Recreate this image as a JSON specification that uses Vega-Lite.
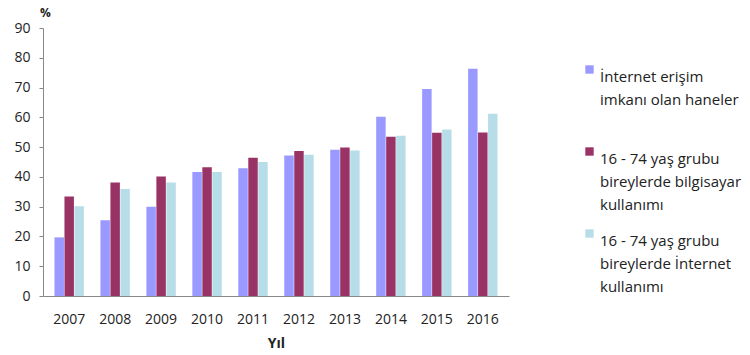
{
  "$schema": "https://vega.github.io/schema/vega-lite/v6.json",
  "width": 466,
  "height": 268,
  "autosize": {"type": "none"},
  "padding": {"left": 43, "top": 28, "right": 241, "bottom": 59},
  "background": "white",
  "config": {
    "view": {"stroke": null},
    "font": "Open Sans",
    "style": {"guide-label": {"lineHeight": 23}}
  },
  "data": {
    "values": [
      {"yil": "2007", "seri": "İnternet erişim\nimkanı olan haneler", "k": 1, "deger": 19.7},
      {"yil": "2007", "seri": "16 - 74 yaş grubu\nbireylerde bilgisayar\nkullanımı", "k": 2, "deger": 33.4},
      {"yil": "2007", "seri": "16 - 74 yaş grubu\nbireylerde İnternet\nkullanımı", "k": 3, "deger": 30.1},
      {"yil": "2008", "seri": "İnternet erişim\nimkanı olan haneler", "k": 1, "deger": 25.4},
      {"yil": "2008", "seri": "16 - 74 yaş grubu\nbireylerde bilgisayar\nkullanımı", "k": 2, "deger": 38.1},
      {"yil": "2008", "seri": "16 - 74 yaş grubu\nbireylerde İnternet\nkullanımı", "k": 3, "deger": 35.9},
      {"yil": "2009", "seri": "İnternet erişim\nimkanı olan haneler", "k": 1, "deger": 30.0},
      {"yil": "2009", "seri": "16 - 74 yaş grubu\nbireylerde bilgisayar\nkullanımı", "k": 2, "deger": 40.1},
      {"yil": "2009", "seri": "16 - 74 yaş grubu\nbireylerde İnternet\nkullanımı", "k": 3, "deger": 38.1},
      {"yil": "2010", "seri": "İnternet erişim\nimkanı olan haneler", "k": 1, "deger": 41.6},
      {"yil": "2010", "seri": "16 - 74 yaş grubu\nbireylerde bilgisayar\nkullanımı", "k": 2, "deger": 43.2},
      {"yil": "2010", "seri": "16 - 74 yaş grubu\nbireylerde İnternet\nkullanımı", "k": 3, "deger": 41.6},
      {"yil": "2011", "seri": "İnternet erişim\nimkanı olan haneler", "k": 1, "deger": 42.9},
      {"yil": "2011", "seri": "16 - 74 yaş grubu\nbireylerde bilgisayar\nkullanımı", "k": 2, "deger": 46.4},
      {"yil": "2011", "seri": "16 - 74 yaş grubu\nbireylerde İnternet\nkullanımı", "k": 3, "deger": 45.0},
      {"yil": "2012", "seri": "İnternet erişim\nimkanı olan haneler", "k": 1, "deger": 47.2},
      {"yil": "2012", "seri": "16 - 74 yaş grubu\nbireylerde bilgisayar\nkullanımı", "k": 2, "deger": 48.7},
      {"yil": "2012", "seri": "16 - 74 yaş grubu\nbireylerde İnternet\nkullanımı", "k": 3, "deger": 47.4},
      {"yil": "2013", "seri": "İnternet erişim\nimkanı olan haneler", "k": 1, "deger": 49.1},
      {"yil": "2013", "seri": "16 - 74 yaş grubu\nbireylerde bilgisayar\nkullanımı", "k": 2, "deger": 49.9},
      {"yil": "2013", "seri": "16 - 74 yaş grubu\nbireylerde İnternet\nkullanımı", "k": 3, "deger": 48.9},
      {"yil": "2014", "seri": "İnternet erişim\nimkanı olan haneler", "k": 1, "deger": 60.2},
      {"yil": "2014", "seri": "16 - 74 yaş grubu\nbireylerde bilgisayar\nkullanımı", "k": 2, "deger": 53.5},
      {"yil": "2014", "seri": "16 - 74 yaş grubu\nbireylerde İnternet\nkullanımı", "k": 3, "deger": 53.8},
      {"yil": "2015", "seri": "İnternet erişim\nimkanı olan haneler", "k": 1, "deger": 69.5},
      {"yil": "2015", "seri": "16 - 74 yaş grubu\nbireylerde bilgisayar\nkullanımı", "k": 2, "deger": 54.8},
      {"yil": "2015", "seri": "16 - 74 yaş grubu\nbireylerde İnternet\nkullanımı", "k": 3, "deger": 55.9},
      {"yil": "2016", "seri": "İnternet erişim\nimkanı olan haneler", "k": 1, "deger": 76.3},
      {"yil": "2016", "seri": "16 - 74 yaş grubu\nbireylerde bilgisayar\nkullanımı", "k": 2, "deger": 54.9},
      {"yil": "2016", "seri": "16 - 74 yaş grubu\nbireylerde İnternet\nkullanımı", "k": 3, "deger": 61.2}
    ]
  },
  "mark": {"type": "bar"},
  "encoding": {
    "x": {
      "field": "yil",
      "type": "nominal",
      "scale": {"paddingInner": 0.36, "paddingOuter": 0.25},
      "axis": {
        "title": "Yıl",
        "titleFont": "Open Sans",
        "titleFontSize": 14,
        "titleFontWeight": "bold",
        "titleColor": "#222222",
        "titlePadding": 10,
        "labelAngle": 0,
        "labelFontSize": 14,
        "labelColor": "#222222",
        "labelPadding": 16,
        "ticks": false,
        "domainColor": "#888888"
      }
    },
    "xOffset": {"field": "k", "type": "ordinal", "scale": {"paddingInner": 0.05}},
    "y": {
      "field": "deger",
      "type": "quantitative",
      "scale": {"domain": [0, 90]},
      "axis": {
        "values": [0, 10, 20, 30, 40, 50, 60, 70, 80, 90],
        "grid": false,
        "title": "%",
        "titleAngle": 0,
        "titleX": 2,
        "titleY": -9,
        "titleFontSize": 12,
        "titleFontWeight": "bold",
        "titleColor": "#222222",
        "labelFontSize": 14,
        "labelColor": "#222222",
        "labelPadding": 9,
        "tickSize": 4,
        "tickColor": "#888888",
        "domainColor": "#888888"
      }
    },
    "color": {
      "field": "seri",
      "type": "nominal",
      "sort": {"field": "k"},
      "scale": {
        "domain": [
          "İnternet erişim\nimkanı olan haneler",
          "16 - 74 yaş grubu\nbireylerde bilgisayar\nkullanımı",
          "16 - 74 yaş grubu\nbireylerde İnternet\nkullanımı"
        ],
        "range": ["#9999FF", "#993366", "#B7DEE8"]
      },
      "legend": {
        "title": null,
        "orient": "none",
        "legendX": 539,
        "legendY": 34,
        "symbolType": "square",
        "symbolSize": 70,
        "symbolStrokeWidth": 0,
        "labelFontSize": 15,
        "labelColor": "#222222",
        "labelLimit": 200,
        "labelExpr": "split(datum.label + (length(split(datum.label, '\\n')) < 3 ? '\\n ' : ''), '\\n')",
        "labelBaseline": "top",
        "labelOffset": 3,
        "rowPadding": 13
      }
    }
  }
}
